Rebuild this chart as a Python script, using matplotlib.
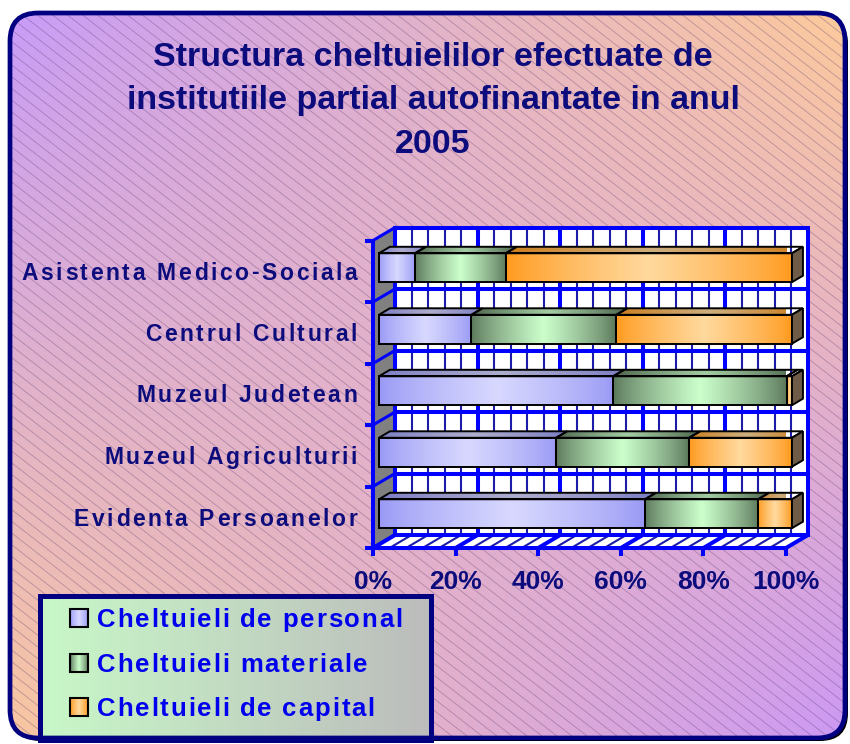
"""
Stacked 100% horizontal bar chart with a fake 3D look (Excel style).
"""

import numpy as np
import matplotlib
matplotlib.use('Agg')
import matplotlib.pyplot as plt
from matplotlib.patches import FancyBboxPatch, Rectangle, Polygon
from matplotlib.collections import LineCollection
from matplotlib.transforms import ScaledTranslation
from matplotlib.colors import to_rgb
from matplotlib.font_manager import FontProperties, findfont, get_font

plt.rcParams['font.family'] = ['Liberation Sans', 'DejaVu Sans']

# data (top row first)
categories = ['Asistenta Medico-Sociala', 'Centrul Cultural', 'Muzeul Judetean',
              'Muzeul Agriculturii', 'Evidenta Persoanelor']
personal = [8.7, 22.4, 56.7, 42.9, 64.4]
materiale = [22.0, 35.1, 42.0, 32.2, 27.4]
capital = [69.3, 42.5, 1.3, 24.9, 8.2]
series_names = ['Cheltuieli de personal', 'Cheltuieli materiale', 'Cheltuieli de capital']
tick_values = [0, 20, 40, 60, 80, 100]
tick_labels = ['0%', '20%', '40%', '60%', '80%', '100%']
title = 'Structura cheltuielilor efectuate de\ninstitutiile partial autofinantate in anul\n2005'

W, H = 850, 744
NAVY = '#0c0c7c'
BLUE = '#0000ff'
series_cols = [('#9a9af5', '#d8d8ff'), ('#5c785c', '#ccffcc'), ('#ff9a1e', '#ffd99e')]

fig = plt.figure(figsize=(W / 100, H / 100), dpi=100)


def px_axes(x0, y0, x1, y1, **kw):
    # box given in pixels from the top-left corner
    return fig.add_axes([x0 / W, 1 - y1 / H, (x1 - x0) / W, (y1 - y0) / H], **kw)


def bar_gradient(edge, mid, n=64, dark=1.0):
    u = np.linspace(0, 1, n)
    t = (1 - np.abs(2 * u - 1)) ** 0.8
    e, m = np.array(to_rgb(edge)), np.array(to_rgb(mid))
    row = e + (m - e) * t[:, None]
    return np.clip(row[None, :, :] * dark, 0, 1)


def spaced_text(axes, x, y, s, size, color, extra_px, ha='left', dx_px=0):
    # bold text with extra letter spacing, drawn char by char
    prop = FontProperties(family='Liberation Sans', weight='bold', size=size)
    font = get_font(findfont(prop))
    font.set_size(size, 100)
    adv = [font.load_char(ord(c)).linearHoriAdvance / 65536 for c in s]
    total = sum(adv) + extra_px * (len(s) - 1)
    pos = dx_px - {'left': 0, 'center': total / 2, 'right': total}[ha]
    down = 0.36 * size * 100 / 72
    for c, a in zip(s, adv):
        tr = axes.transData + ScaledTranslation(pos / 100, -down / 100, fig.dpi_scale_trans)
        axes.text(x, y, c, transform=tr, fontproperties=prop, color=color,
                  ha='left', va='baseline', clip_on=False, zorder=6)
        pos += a + extra_px


# ---- background with rounded frame
bg = fig.add_axes([0, 0, 1, 1], zorder=0)
bg.set_xlim(0, W)
bg.set_ylim(H, 0)
bg.axis('off')
frame_kw = dict(boxstyle='round,pad=0,rounding_size=28')
bg.add_patch(FancyBboxPatch((13, 16), 835, 725, fc='black', ec='none', zorder=0, **frame_kw))
box = FancyBboxPatch((10, 13), 835, 725, fc='none', ec='none', zorder=0, **frame_kw)
bg.add_patch(box)
u = np.linspace(0, 1, 300)[None, :, None]
v = np.linspace(0, 1, 300)[:, None, None]
tl, tr_, bl, br = [np.array(to_rgb(c)) for c in ('#c89cf8', '#fdca9c', '#f9c7a0', '#cc99f5')]
grad = (1 - u) * (1 - v) * tl + u * (1 - v) * tr_ + (1 - u) * v * bl + u * v * br
im = bg.imshow(grad, extent=(10, 845, 738, 13), aspect='auto', zorder=1)
im.set_clip_path(box)

# thin diagonal pattern lines over the background
slope, gap = 0.78, 11.7
starts = np.arange(13 - slope * 835, 738, gap)
segs = [[(10, s), (845, s + slope * 835)] for s in starts]
pattern = LineCollection(segs, colors=[(0.32, 0.22, 0.42, 0.36)], linewidths=0.6, zorder=2)
bg.add_collection(pattern)
pattern.set_clip_path(box)

bg.set_xlim(0, W)
bg.set_ylim(H, 0)
bg.text(433, 101, title, ha='center', va='center', fontsize=24.5, fontweight='bold',
        color=NAVY, linespacing=1.52, zorder=5)

# ---- plot area (front plane of the 3D box)
ax = px_axes(373, 240.5, 786, 548, zorder=2)
ax.set_xlim(0, 100)
ax.set_ylim(-0.5, 4.5)
ax.patch.set_visible(False)
sx = 413 / 100
sy = 307.5 / 5
DX, DY = 22 / sx, 13 / sy
t0, t1 = 0.27, 0.77
bh = 0.47


def P(x, y, t):
    return (x + t * DX, y + t * DY)


ax.add_patch(Polygon([P(0, -0.5, 1), P(100, -0.5, 1), P(100, 4.5, 1), P(0, 4.5, 1)],
                     fc='white', ec='none', clip_on=False, zorder=1))
ax.add_patch(Polygon([P(0, -0.5, 0), P(100, -0.5, 0), P(100, -0.5, 1), P(0, -0.5, 1)],
                     fc='white', ec='none', clip_on=False, zorder=1))
ax.add_patch(Polygon([P(0, -0.5, 0), P(0, 4.5, 0), P(0, 4.5, 1), P(0, -0.5, 1)],
                     fc='#808080', ec='none', clip_on=False, zorder=1))

for g in range(0, 101, 4):
    major = g % 20 == 0
    kw = dict(color=BLUE if major else '#1c1ca8', lw=2.9 if major else 1.5,
              clip_on=False, zorder=2, solid_capstyle='butt')
    (a, b), (c, d) = P(g, -0.5, 1), P(g, 4.5, 1)
    ax.plot([a, c], [b, d], **kw)
    (a, b), (c, d) = P(g, -0.5, 0), P(g, -0.5, 1)
    ax.plot([a, c], [b, d], **kw)
for yb in np.arange(-0.5, 4.6, 1):
    (a, b), (c, d) = P(0, yb, 1), P(100, yb, 1)
    ax.plot([a, c], [b, d], color=BLUE, lw=2.9, clip_on=False, zorder=2)
    (a, b), (c, d) = P(0, yb, 0), P(0, yb, 1)
    ax.plot([a, c], [b, d], color=BLUE, lw=2.2, clip_on=False, zorder=2)

# ---- bars
n = len(categories)
for i, cat in enumerate(categories):
    y = n - 1 - i
    left = 0.0
    vals = [personal[i], materiale[i], capital[i]]
    for k, w in enumerate(vals):
        x0, x1 = left, left + w
        edge, mid = series_cols[k]
        # front face
        fx0, fy0 = P(x0, y - bh / 2, t0)
        fx1, fy1 = P(x1, y + bh / 2, t0)
        ax.imshow(bar_gradient(edge, mid), extent=(fx0, fx1, fy0, fy1), aspect='auto',
                  clip_on=False, zorder=3, interpolation='bilinear')
        ax.add_patch(Rectangle((fx0, fy0), fx1 - fx0, fy1 - fy0, fc='none', ec='black',
                               lw=1.4, clip_on=False, zorder=4))
        # top face
        top = Polygon([P(x0, y + bh / 2, t0), P(x1, y + bh / 2, t0),
                       P(x1, y + bh / 2, t1), P(x0, y + bh / 2, t1)],
                      fc='none', ec='black', lw=1.4, clip_on=False, zorder=4)
        ax.add_patch(top)
        tx0, ty0 = P(x0, y + bh / 2, t0)
        tx1, ty1 = P(x1, y + bh / 2, t1)
        tim = ax.imshow(bar_gradient(edge, mid, dark=0.8), extent=(tx0, tx1, ty0, ty1),
                        aspect='auto', zorder=3, interpolation='bilinear')
        tim.set_clip_path(top)
        tim.set_clip_box(None)
        left = x1
    ax.add_patch(Polygon([P(100, y - bh / 2, t0), P(100, y + bh / 2, t0),
                          P(100, y + bh / 2, t1), P(100, y - bh / 2, t1)],
                         fc='#6e5c48', ec='black', lw=1.4, clip_on=False, zorder=4))
    spaced_text(ax, 0, y, cat, 16.5, NAVY, 2.6, ha='right', dx_px=-16)

ax.set_xlim(0, 100)
ax.set_ylim(-0.5, 4.5)
for side in ('top', 'right'):
    ax.spines[side].set_visible(False)
for side in ('left', 'bottom'):
    ax.spines[side].set_color(BLUE)
    ax.spines[side].set_linewidth(2.9)
    ax.spines[side].set_zorder(5)
ax.set_xticks(tick_values, tick_labels)
ax.set_yticks(np.arange(-0.5, 4.6, 1), [])
ax.tick_params(axis='x', direction='out', length=6, width=2.9, color=BLUE, pad=10,
               labelsize=19, labelcolor=NAVY)
ax.tick_params(axis='y', direction='out', length=6, width=2.9, color=BLUE)
for lab in ax.get_xticklabels():
    lab.set_fontweight('bold')

# ---- legend box
lax = px_axes(40, 596, 431, 740, zorder=3)
lax.set_xlim(0, 391)
lax.set_ylim(144, 0)
lax.set_xticks([])
lax.set_yticks([])
lgrad = np.linspace(0, 1, 200)[None, :, None]
lcol = (1 - lgrad) * np.array(to_rgb('#c8f8c8')) + lgrad * np.array(to_rgb('#bcbcbc'))
lax.imshow(lcol, extent=(0, 391, 144, 0), aspect='auto')
for sp in lax.spines.values():
    sp.set_color('#000080')
    sp.set_linewidth(3.6)
lax.set_xlim(0, 391)
lax.set_ylim(144, 0)
for k, name in enumerate(series_names):
    cy = 22 + 44.5 * k
    edge, mid = series_cols[k]
    lax.imshow(bar_gradient(edge, mid, n=16), extent=(30, 48, cy + 9, cy - 9),
               aspect='auto', zorder=3)
    lax.add_patch(Rectangle((30, cy - 9), 18, 18, fc='none', ec='black', lw=1.5, zorder=4))
    spaced_text(lax, 57, cy, name, 18.5, '#0000ee', 1.8, ha='left')

# ---- frame on top
top_ax = fig.add_axes([0, 0, 1, 1], zorder=10)
top_ax.set_xlim(0, W)
top_ax.set_ylim(H, 0)
top_ax.axis('off')
top_ax.patch.set_visible(False)
top_ax.add_patch(FancyBboxPatch((10, 13), 835, 725, fc='none', ec='#000080', lw=3.4, **frame_kw))
top_ax.set_xlim(0, W)
top_ax.set_ylim(H, 0)

fig.savefig('out.png', dpi=100)
